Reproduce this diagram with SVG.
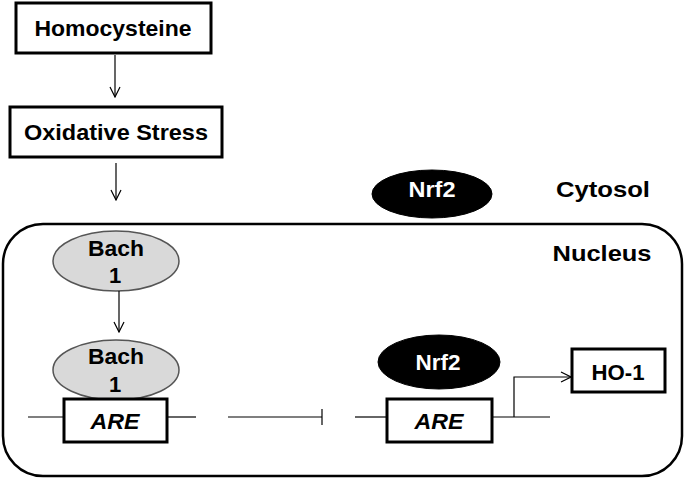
<svg xmlns="http://www.w3.org/2000/svg" width="685" height="478" viewBox="0 0 685 478">
<style>
.box{fill:#fff;stroke:#000;stroke-width:3}
.t{font-family:"Liberation Sans",Arial,sans-serif;font-weight:bold;font-size:22px;fill:#000;text-anchor:middle}
.w{fill:#fff}
.i{font-style:italic}
.ln{stroke:#000;stroke-width:1.2;fill:none}
.bach{fill:#d9d9d9;stroke:#555;stroke-width:1.5}
.nrf{fill:#000;stroke:#000}
</style>
<defs>
<marker id="arr" viewBox="0 0 12 12" refX="11" refY="6" markerWidth="12" markerHeight="12" markerUnits="userSpaceOnUse" orient="auto">
<polyline points="1,1 11,6 1,11" fill="none" stroke="#000" stroke-width="1.2"/>
</marker>
</defs>
<rect id="nucleus" x="3" y="224" width="679" height="252" rx="40" ry="40" fill="none" stroke="#000" stroke-width="2.5"/>
<g id="homocysteine"><rect class="box" x="16" y="3" width="195" height="50"/><text class="t" x="113" y="36" textLength="157" lengthAdjust="spacingAndGlyphs">Homocysteine</text></g>
<g id="oxidative-stress"><rect class="box" x="10" y="107" width="212" height="50"/><text class="t" x="116" y="140" textLength="184" lengthAdjust="spacingAndGlyphs">Oxidative Stress</text></g>
<g id="nrf2-cytosol"><ellipse class="nrf" cx="432" cy="194" rx="60" ry="24"/><text class="t w" x="432" y="197" textLength="47" lengthAdjust="spacingAndGlyphs">Nrf2</text></g>
<g id="cytosol-label"><text class="t" x="603" y="197" textLength="94" lengthAdjust="spacingAndGlyphs">Cytosol</text></g>
<g id="nucleus-label"><text class="t" x="602" y="261" textLength="99" lengthAdjust="spacingAndGlyphs">Nucleus</text></g>
<g id="bach1-a"><ellipse class="bach" cx="116" cy="261" rx="63" ry="30"/><text class="t" x="116" y="256" textLength="56" lengthAdjust="spacingAndGlyphs">Bach</text><text class="t" x="115" y="283">1</text></g>
<g id="bach1-b"><ellipse class="bach" cx="116" cy="370" rx="63" ry="30"/><text class="t" x="116" y="364" textLength="56" lengthAdjust="spacingAndGlyphs">Bach</text><text class="t" x="115" y="392">1</text></g>
<g id="are-1"><rect class="box" x="64" y="399" width="103" height="43" stroke-width="2.5"/><text class="t i" x="115" y="429" textLength="49" lengthAdjust="spacingAndGlyphs">ARE</text></g>
<g id="nrf2-nucleus"><ellipse class="nrf" cx="439" cy="362" rx="61" ry="27"/><text class="t w" x="438" y="370" textLength="45" lengthAdjust="spacingAndGlyphs">Nrf2</text></g>
<g id="are-2"><rect class="box" x="387" y="399" width="105" height="43" stroke-width="2.5"/><text class="t i" x="439" y="429" textLength="49" lengthAdjust="spacingAndGlyphs">ARE</text></g>
<g id="ho-1"><rect class="box" x="572" y="349" width="93" height="43" stroke-width="2.5"/><text class="t" x="618" y="380" textLength="53" lengthAdjust="spacingAndGlyphs">HO-1</text></g>
<g id="connectors">
<line class="ln" x1="115" y1="55" x2="115" y2="97" marker-end="url(#arr)"/>
<line class="ln" x1="116" y1="163" x2="116" y2="200" marker-end="url(#arr)"/>
<line class="ln" x1="119" y1="291" x2="119" y2="332" marker-end="url(#arr)"/>
<line class="ln" x1="28" y1="417" x2="64" y2="417"/>
<line class="ln" x1="167" y1="417" x2="196" y2="417"/>
<line class="ln" x1="228" y1="417" x2="322" y2="417"/>
<line class="ln" x1="322" y1="409" x2="322" y2="425"/>
<line class="ln" x1="355" y1="417" x2="387" y2="417"/>
<line class="ln" x1="492" y1="417" x2="550" y2="417"/>
<polyline class="ln" points="514,417 514,377 571,377" marker-end="url(#arr)"/>
</g>
</svg>
